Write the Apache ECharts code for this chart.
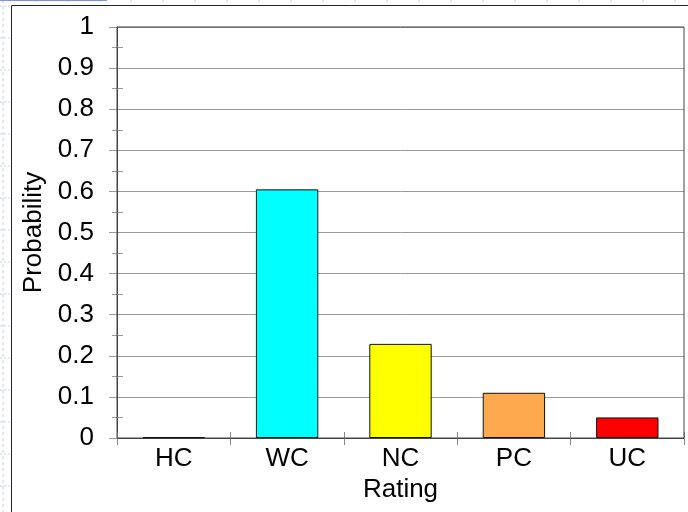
<!DOCTYPE html>
<html>
<head>
<meta charset="utf-8">
<script src="https://cdn.jsdelivr.net/npm/echarts@6/dist/echarts.min.js"></script>
<style>
html,body{margin:0;padding:0;background:#fff;}
#c{width:688px;height:512px;}
</style>
</head>
<body>
<div id="c"></div>
<script>
var categories = ['HC', 'WC', 'NC', 'PC', 'UC'];
var probabilities = [0.002, 0.605, 0.229, 0.11, 0.05];
var barColors = ['#000000', '#00FFFF', '#FFFF00', '#FFA94F', '#FF0000'];
var xAxisName = 'Rating';
var yAxisName = 'Probability';

var FONT = 'Liberation Sans';
var FS = 26;
var chart = echarts.init(document.getElementById('c'), null, {renderer: 'canvas'});

// spreadsheet background decoration
var deco = [];
deco.push({type: 'line', shape: {x1: 3, y1: 0, x2: 3, y2: 512}, style: {stroke: '#c6cff0', lineWidth: 1, lineDash: [3, 3]}, silent: true});
for (var y = 6; y < 512; y += 32) {
  deco.push({type: 'line', shape: {x1: 0, y1: y, x2: 10, y2: y}, style: {stroke: '#c6cff0', lineWidth: 1, lineDash: [2, 2]}, silent: true});
}
for (var x = 3; x < 688; x += 32) {
  deco.push({type: 'line', shape: {x1: x, y1: 0, x2: x, y2: 4}, style: {stroke: '#c6cff0', lineWidth: 1, lineDash: [2, 2]}, silent: true});
}
deco.push({type: 'line', shape: {x1: 0, y1: 0.5, x2: 107, y2: 0.5}, style: {stroke: '#7b93e6', lineWidth: 1}, silent: true});
deco.push({type: 'rect', shape: {x: 11.5, y: 5.5, width: 700, height: 520}, style: {fill: '#fff', stroke: '#222', lineWidth: 1}, z: -1, silent: true});

var option = {
  animation: false,
  backgroundColor: '#fff',
  graphic: deco,
  grid: {left: 117, right: 4, top: 27, bottom: 74, show: true, borderColor: '#444', borderWidth: 1, backgroundColor: 'transparent', z: 3},
  xAxis: [{
    type: 'category',
    data: categories,
    name: xAxisName,
    nameLocation: 'middle',
    nameGap: 37,
    nameTextStyle: {fontFamily: FONT, fontSize: FS, color: '#000'},
    axisLine: {lineStyle: {color: '#444', width: 1}},
    axisTick: {show: true, length: 7, lineStyle: {color: '#888'}},
    axisLabel: {fontFamily: FONT, fontSize: FS, color: '#000', margin: 8},
    splitLine: {show: false}
  }, {
    type: 'category',
    data: categories,
    position: 'bottom',
    axisLine: {show: false},
    axisTick: {show: true, inside: true, length: 6, lineStyle: {color: '#888'}},
    axisLabel: {show: false},
    splitLine: {show: false}
  }],
  yAxis: [{
    type: 'value',
    min: 0,
    max: 1,
    interval: 0.1,
    name: yAxisName,
    nameLocation: 'middle',
    nameGap: 63,
    nameTextStyle: {fontFamily: FONT, fontSize: FS, color: '#000'},
    axisLine: {show: true, lineStyle: {color: '#444', width: 1}},
    axisTick: {show: true, length: 8, lineStyle: {color: '#999'}},
    minorTick: {show: true, splitNumber: 2, length: 5, lineStyle: {color: '#999'}},
    axisLabel: {fontFamily: FONT, fontSize: FS, color: '#000', margin: 23},
    splitLine: {show: true, lineStyle: {color: '#999', width: 1}}
  }, {
    type: 'value',
    min: 0,
    max: 1,
    interval: 0.1,
    position: 'left',
    axisLine: {show: false},
    axisTick: {show: false, inside: true},
    minorTick: {show: true, splitNumber: 2, length: 6, lineStyle: {color: '#999'}},
    axisLabel: {show: false},
    splitLine: {show: false}
  }],
  series: [{
    type: 'bar',
    xAxisIndex: 0,
    yAxisIndex: 0,
    barWidth: '55%',
    data: probabilities.map(function (v, i) {
      return {value: v, itemStyle: {color: barColors[i]}};
    }),
    itemStyle: {borderColor: '#111', borderWidth: 1},
    z: 4
  }]
};
chart.setOption(option);
</script>
</body>
</html>
